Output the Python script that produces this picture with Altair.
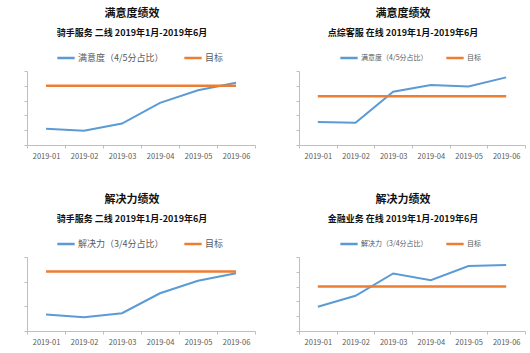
import altair as alt
import pandas as pd

months = ["2019-01", "2019-02", "2019-03", "2019-04", "2019-05", "2019-06"]

p1_title = "满意度绩效"
p1_sub = "骑手服务 二线 2019年1月-2019年6月"
p1_label = "满意度（4/5分占比）"
p1_vals = [1.1, 0.97, 1.45, 2.85, 3.7, 4.2]
p1_target = [4.0] * 6
p1_max = 5

p2_title = "满意度绩效"
p2_sub = "点综客服 在线 2019年1月-2019年6月"
p2_label = "满意度（4/5分占比）"
p2_vals = [1.56, 1.5, 3.6, 4.06, 3.95, 4.57]
p2_target = [3.3] * 6
p2_max = 5

p3_title = "解决力绩效"
p3_sub = "骑手服务 二线 2019年1月-2019年6月"
p3_label = "解决力（3/4分占比）"
p3_vals = [0.67, 0.56, 0.72, 1.53, 2.04, 2.34]
p3_target = [2.41] * 6
p3_max = 3

p4_title = "解决力绩效"
p4_sub = "金融业务 在线 2019年1月-2019年6月"
p4_label = "解决力（3/4分占比）"
p4_vals = [1.64, 2.38, 3.89, 3.43, 4.39, 4.46]
p4_target = [3.0] * 6
p4_max = 5

target_name = "目标"
BLUE = "#5B9BD5"
ORANGE = "#ED7D31"
FONT = "Noto Sans CJK SC"
AX = "#bfbfbf"


def panel(title, sub, label, vals, target, ymax, w, legend_x, legend_font, col_pad):
    df = pd.DataFrame({
        "month": months * 2,
        "value": vals + target,
        "series": [label] * 6 + [target_name] * 6,
    })
    x = alt.X("month:N", sort=months, bandPosition=0.5,
              scale=alt.Scale(type="band", paddingInner=0, paddingOuter=0),
              axis=alt.Axis(title=None, labelAngle=0, tickBand="extent",
                            domainColor=AX, tickColor=AX, tickSize=3,
                            labelFontSize=7.5, labelColor="#595959", labelFont=FONT,
                            labelPadding=4, grid=False))
    y = alt.Y("value:Q", scale=alt.Scale(domain=[0, ymax], nice=False, zero=True),
              axis=alt.Axis(title=None, labels=False, values=list(range(ymax + 1)),
                            tickSize=3, domainColor=AX, tickColor=AX, grid=False))
    color = alt.Color("series:N",
                      scale=alt.Scale(domain=[label, target_name], range=[BLUE, ORANGE]),
                      legend=alt.Legend(title=None, orient="none", legendX=legend_x, legendY=-23,
                                        direction="horizontal", symbolType="stroke",
                                        symbolStrokeWidth=2.5, symbolSize=300,
                                        labelFontSize=legend_font, labelColor="#595959",
                                        labelFont=FONT, labelOffset=2, columnPadding=col_pad,
                                        padding=0))
    blue = alt.Chart(df).transform_filter(alt.datum.series == label).mark_line(strokeWidth=2).encode(
        x=x, y=y, color=color)
    orange = alt.Chart(df).transform_filter(alt.datum.series == target_name).mark_line(strokeWidth=2.5).encode(
        x=x, y=y, color=color)
    return alt.layer(blue, orange).properties(
        width=w, height=74,
        title=alt.TitleParams(text=title, subtitle=sub, font=FONT, fontSize=11, fontWeight="bold",
                              color="#111111", subtitleFont=FONT, subtitleFontSize=9,
                              subtitleFontWeight="bold", subtitleColor="#111111",
                              subtitlePadding=10, anchor="middle", dx=-9, offset=10),
    )


c1 = panel(p1_title, p1_sub, p1_label, p1_vals, p1_target, p1_max, 228, 29, 9, 15)
c2 = panel(p2_title, p2_sub, p2_label, p2_vals, p2_target, p2_max, 226, 40, 7, 13)
c3 = panel(p3_title, p3_sub, p3_label, p3_vals, p3_target, p3_max, 228, 29, 9, 15)
c4 = panel(p4_title, p4_sub, p4_label, p4_vals, p4_target, p4_max, 226, 40, 7, 13)

row1 = alt.hconcat(c1, c2, spacing=39).resolve_scale(color="independent", y="independent", x="independent")
row2 = alt.hconcat(c3, c4, spacing=39).resolve_scale(color="independent", y="independent", x="independent")
chart = alt.vconcat(row1, row2, spacing=34).resolve_scale(
    color="independent", y="independent", x="independent"
).properties(
    padding={"left": 23, "top": 8, "right": 4, "bottom": 4},
    background="white",
).configure_view(stroke=None)

chart.save("out.html", embed_options={"renderer": "svg", "actions": False})
